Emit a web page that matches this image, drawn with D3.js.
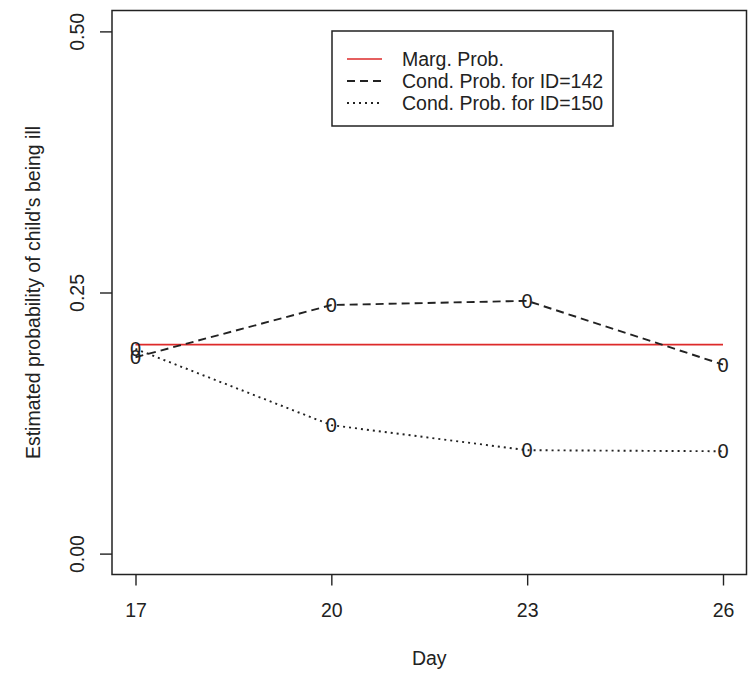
<!DOCTYPE html>
<html>
<head>
<meta charset="utf-8">
<script src="https://cdn.jsdelivr.net/npm/d3@7"></script>
<style>
  html, body { margin: 0; padding: 0; background: #fff; }
  svg { display: block; }
  text { font-family: "Liberation Sans", Arial, sans-serif; fill: #222; }
</style>
</head>
<body>
<svg id="chart" width="755" height="674"></svg>
<script>
// Days of observation
const days = [17, 20, 23, 26];
// Marginal probability (constant across days)
const margProb = [0.20, 0.20, 0.20, 0.20];
// Conditional probabilities for two children
const cond142 = [0.188, 0.238, 0.242, 0.181];
const cond150 = [0.196, 0.123, 0.099, 0.098];
// Axis ticks
const xTicks = [17, 20, 23, 26];
const yTicks = [0, 0.25, 0.5];
const yTickLabels = ["0.00", "0.25", "0.50"];
// Legend entries
const legendLabels = ["Marg. Prob.", "Cond. Prob. for ID=142", "Cond. Prob. for ID=150"];

const svg = d3.select("#chart");
const plotL = 112, plotR = 746.5, plotT = 10.5, plotB = 574.5;

// R-style 4% padding around the data ranges
const x = d3.scaleLinear().domain([16.64, 26.36]).range([plotL, plotR]);
const y = d3.scaleLinear().domain([-0.02, 0.52]).range([plotB, plotT]);

const fontSize = 19.5;
const markerSize = 20;
const red = "#dd2a2a";
const dashed = "8,5";
const dotted = "2,4";

// X axis
const xAxis = svg.append("g")
  .attr("transform", `translate(0,${plotB})`)
  .call(d3.axisBottom(x).tickValues(xTicks).tickSize(11).tickPadding(20).tickFormat(d3.format("d")));
xAxis.select(".domain").remove();
xAxis.selectAll(".tick line").attr("stroke", "#222").attr("stroke-width", 1.4);
xAxis.selectAll(".tick text").attr("font-size", fontSize).attr("font-family", "Liberation Sans, Arial, sans-serif").attr("fill", "#222").attr("dy", "0.35em").attr("y", 36);

// Y axis with rotated labels
const yAxis = svg.append("g")
  .attr("transform", `translate(${plotL},0)`)
  .call(d3.axisLeft(y).tickValues(yTicks).tickSize(12).tickFormat((d, i) => yTickLabels[i]));
yAxis.select(".domain").remove();
yAxis.selectAll(".tick line").attr("stroke", "#222").attr("stroke-width", 1.4);
yAxis.selectAll(".tick text")
  .attr("font-size", fontSize).attr("font-family", "Liberation Sans, Arial, sans-serif").attr("fill", "#222")
  .attr("x", null).attr("dy", null)
  .attr("text-anchor", "middle").attr("dominant-baseline", "central")
  .attr("transform", "translate(-35,0) rotate(-90)");

// Plot frame
svg.append("rect")
  .attr("x", plotL).attr("y", plotT)
  .attr("width", plotR - plotL).attr("height", plotB - plotT)
  .attr("fill", "none").attr("stroke", "#222").attr("stroke-width", 1.5);

// Axis titles
svg.append("text")
  .attr("x", (plotL + plotR) / 2).attr("y", 658)
  .attr("text-anchor", "middle").attr("dominant-baseline", "central")
  .attr("font-size", fontSize).text("Day");
svg.append("text")
  .attr("transform", `translate(33,${(plotT + plotB) / 2}) rotate(-90)`)
  .attr("text-anchor", "middle").attr("dominant-baseline", "central")
  .attr("font-size", fontSize).text("Estimated probability of child's being ill");

const line = d3.line().x(d => x(d[0])).y(d => y(d[1]));

// Marginal probability line
svg.append("path")
  .datum(days.map((d, i) => [d, margProb[i]]))
  .attr("d", line).attr("fill", "none").attr("stroke", red).attr("stroke-width", 1.7);

const series = [
  { values: cond142, dash: dashed },
  { values: cond150, dash: dotted }
];

series.forEach(s => {
  const pts = days.map((d, i) => [d, s.values[i]]);
  svg.append("path")
    .datum(pts)
    .attr("d", line).attr("fill", "none")
    .attr("stroke", "#222").attr("stroke-width", 1.9)
    .attr("stroke-dasharray", s.dash);
  svg.append("g").selectAll("text")
    .data(pts).join("text")
    .attr("x", d => x(d[0])).attr("y", d => y(d[1]))
    .attr("text-anchor", "middle").attr("dominant-baseline", "central")
    .attr("font-size", markerSize).attr("fill", "#333")
    .text("0");
});

// Legend
const lg = svg.append("g");
lg.append("rect")
  .attr("x", 332).attr("y", 31).attr("width", 281).attr("height", 95)
  .attr("fill", "#fff").attr("stroke", "#222").attr("stroke-width", 1.5);
const legendStyles = [
  { stroke: red, dash: null, w: 1.7 },
  { stroke: "#222", dash: dashed, w: 1.9 },
  { stroke: "#222", dash: dotted, w: 1.9 }
];
legendLabels.forEach((lab, i) => {
  const yy = 59 + i * 22;
  lg.append("line")
    .attr("x1", 347).attr("x2", 382).attr("y1", yy).attr("y2", yy)
    .attr("stroke", legendStyles[i].stroke).attr("stroke-width", legendStyles[i].w)
    .attr("stroke-dasharray", legendStyles[i].dash);
  lg.append("text")
    .attr("x", 402).attr("y", yy)
    .attr("dominant-baseline", "central")
    .attr("font-size", fontSize).text(lab);
});
</script>
</body>
</html>
